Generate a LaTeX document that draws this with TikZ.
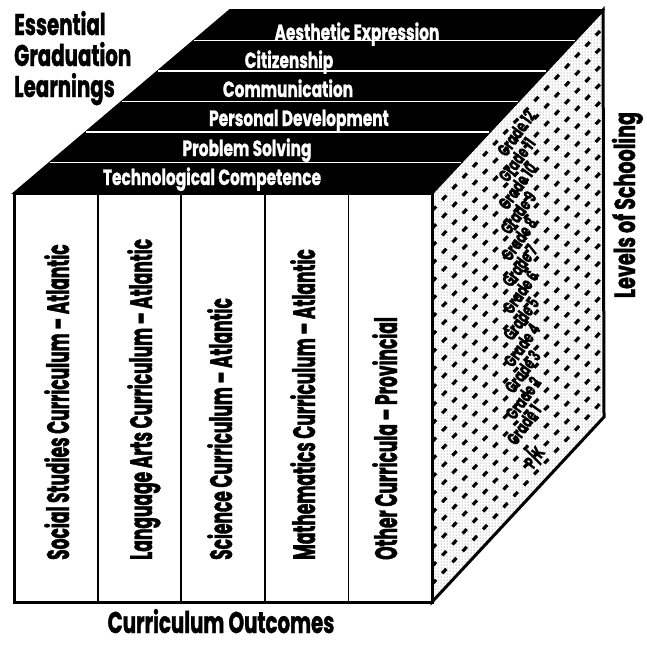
\documentclass[tikz,border=0pt]{standalone}
\usepackage{fontspec}
\setmainfont{Poppins}
\newfontfamily\headfont{Poppins}[FakeStretch=0.66,FakeBold=1.2]
\newfontfamily\bandfont{Poppins}[FakeStretch=0.70,FakeBold=1]
\newfontfamily\colfont{Poppins}[FakeStretch=0.55,FakeBold=1.3]
\usetikzlibrary{calc}
\usetikzlibrary{patterns}
\tikzstyle{face}=[draw=black,line width=3pt,line join=miter]
\tikzstyle{band}=[text=white,font=\bandfont\bfseries\fontsize{22}{22}\selectfont,anchor=base,inner sep=0pt]
\tikzstyle{subj}=[font=\colfont\bfseries\fontsize{31}{31}\selectfont,rotate=90,anchor=base west,inner sep=0pt]
\tikzstyle{grade}=[font=\headfont\bfseries\fontsize{18}{18}\selectfont,rotate=54,inner sep=0pt]
\tikzstyle{ttl}=[font=\headfont\bfseries\fontsize{30}{30}\selectfont,anchor=base west,inner sep=0pt]

\begin{document}
\begin{tikzpicture}[x=1pt,y=-1pt]
      \useasboundingbox (0,0) rectangle (647,646);
      \coordinate (ftl) at (14,193);
      \coordinate (ftr) at (432,193);
      \coordinate (fbr) at (432,602);
      \coordinate (fbl) at (14,602);
      \coordinate (btl) at (230,10);
      \coordinate (btr) at (603,10);
      \coordinate (bbr) at (604,417);
      % side: levels of schooling
      \fill [pattern=dots, pattern color=black!60] (ftr) -- (btr) -- (bbr) -- (fbr) -- cycle;
      \foreach \k in {1,...,22}
        \draw [line width=3.2pt, dash pattern=on 6pt off 9pt] ($(ftr)!\k/23!(fbr)$) -- ($(btr)!\k/23!(bbr)$);
      \draw [face] (ftr) -- (btr) -- (bbr) -- (fbr) -- cycle;
      \foreach \g [count=\i from 0] in {12,11,...,1}
        \node [grade] (g\g) at (516+\i*0.7,133+\i*26.5) {Grade \g};
      \node [grade] (pk) at (534,457) {P/K};
      % top: essential graduation learnings
      \fill [draw=black, line width=2pt] (ftl) -- (btl) -- (btr) -- (ftr) -- cycle;
      \foreach \k in {1,...,5}
        \draw [white, line width=1.5pt] ($(btl)!\k/6!(ftl)$) -- ($(btr)!\k/6!(ftr)$);
      \node [band] (ae) at (357,40) {Aesthetic Expression};
      \node [band] (ci) at (289,68) {Citizenship};
      \node [band] (co) at (288,97) {Communication};
      \node [band] (pd) at (299,126) {Personal Development};
      \node [band] (ps) at (247,156) {Problem Solving};
      \node [band] (tc) at (212,185) {Technological Competence};
      % front: curriculum outcomes
      \draw [face, fill=white] (ftl) rectangle (fbr);
      \foreach \k in {1,...,4}
        \draw [line width=1.8pt] ($(ftl)!\k/5!(ftr)$) -- ($(fbl)!\k/5!(fbr)$);
      \node [subj] (ss) at (69,560) {Social Studies Curriculum – Atlantic};
      \node [subj] (la) at (152,560) {Language Arts Curriculum – Atlantic};
      \node [subj] (sc) at (232,560) {Science Curriculum – Atlantic};
      \node [subj] (ma) at (315,560) {Mathematics Curriculum – Atlantic};
      \node [subj] (ot) at (397,560) {Other Curricula – Provincial};
      % axis titles
      \node [ttl] (egl1) at (14,35) {Essential};
      \node [ttl] (egl2) at (14,66) {Graduation};
      \node [ttl] (egl3) at (14,97) {Learnings};
      \node [ttl, font=\headfont\bfseries\fontsize{29}{29}\selectfont, rotate=90, anchor=base] (los) at (635,205) {Levels of Schooling};
      \node [ttl, font=\headfont\bfseries\fontsize{30}{30}\selectfont, anchor=base] (cuo) at (221,633) {Curriculum Outcomes};
\end{tikzpicture}
\end{document}
